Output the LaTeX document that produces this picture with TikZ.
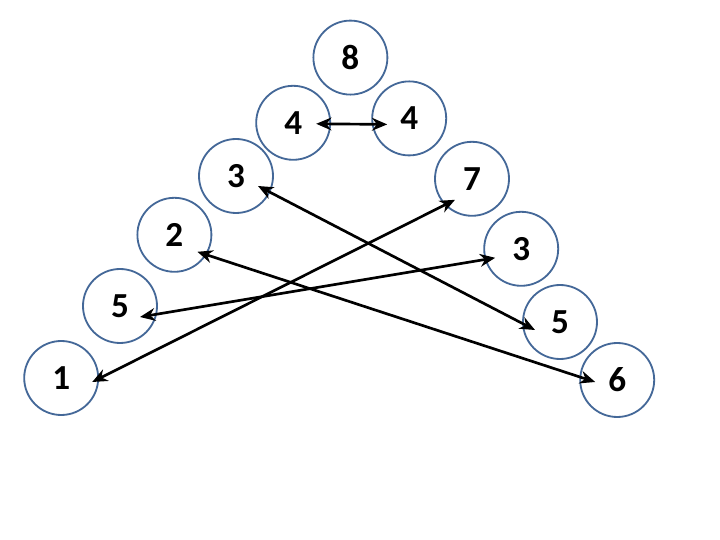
\documentclass[tikz,border=0pt]{standalone}
\usepackage{fontspec}
\setsansfont{Carlito}
\usepackage{xcolor}
\usepackage{tikz}
\usetikzlibrary{arrows.meta}
\definecolor{ringblue}{RGB}{68,104,152}

\begin{document}
\begin{tikzpicture}[scale=1.0,
    ring/.style={draw=ringblue, line width=1.3pt, circle, inner sep=0pt,
                 minimum size=1.85cm, font=\sffamily\bfseries\fontsize{25}{30}\selectfont},
    swap/.style={line width=1.9pt, {Stealth[length=3.8mm,width=3.2mm]}-{Stealth[length=3.8mm,width=3.2mm]}}]
  \useasboundingbox (0,0) rectangle (18,13.5);
  % lado esquerdo
  \node[ring] (e8) at (8.76,12.06) {8};
  \node[ring] (e4) at (7.33,10.43) {4};
  \node[ring] (e3) at (5.90,9.10) {3};
  \node[ring] (e2) at (4.36,7.63) {2};
  \node[ring] (e5) at (3.00,5.85) {5};
  \node[ring] (e1) at (1.53,4.05) {1};
  % lado direito
  \node[ring] (d4) at (10.23,10.54) {4};
  \node[ring] (d7) at (11.80,9.03) {7};
  \node[ring] (d3) at (13.03,7.28) {3};
  \node[ring] (d5) at (14.00,5.45) {5};
  \node[ring] (d6) at (15.43,4.00) {6};
  % trocas
  \draw[swap] ([shift={(0.575,-0.025)}]e4.center) -- ([shift={(-0.55,-0.15)}]d4.center);
  \draw[swap] ([shift={(0.775,-0.10)}]e1.center) -- ([shift={(-0.425,-0.525)}]d7.center);
  \draw[swap] ([shift={(0.50,-0.275)}]e5.center) -- ([shift={(-0.65,-0.225)}]d3.center);
  \draw[swap] ([shift={(0.575,-0.425)}]e2.center) -- ([shift={(-0.55,-0.05)}]d6.center);
  \draw[swap] ([shift={(0.55,-0.25)}]e3.center) -- ([shift={(-0.625,-0.20)}]d5.center);
\end{tikzpicture}
\end{document}
